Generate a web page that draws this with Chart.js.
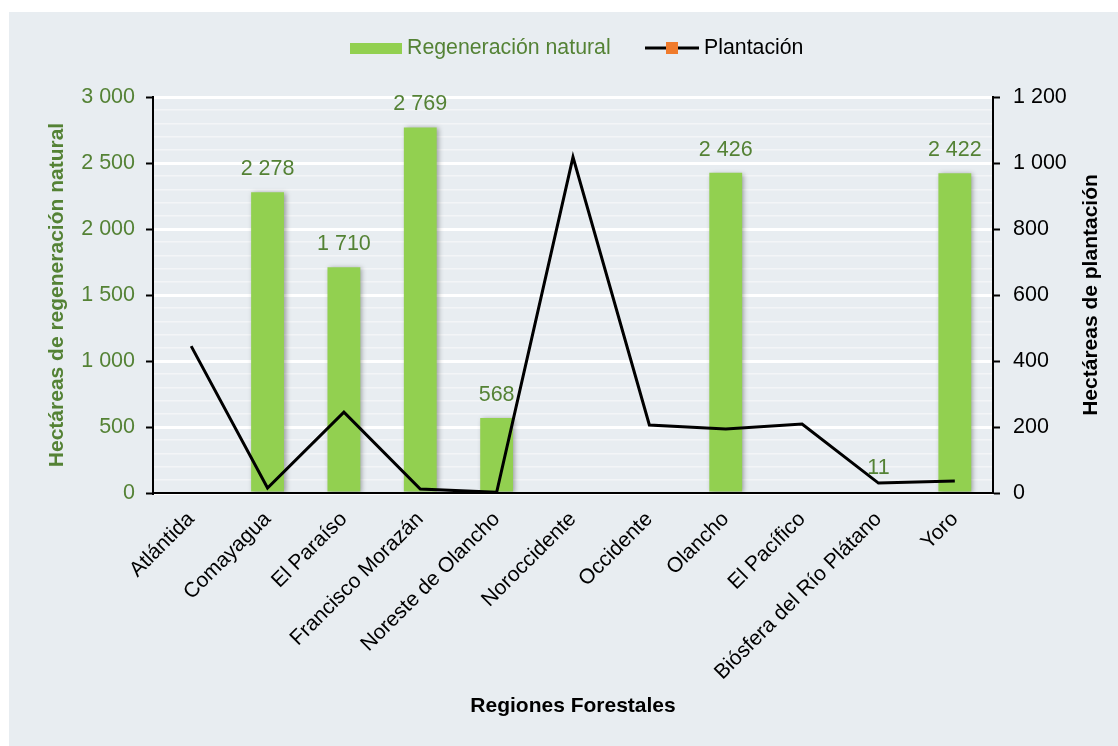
<!DOCTYPE html>
<html>
<head>
<meta charset="utf-8">
<script src="https://cdn.jsdelivr.net/npm/chart.js@4.4.1/dist/chart.umd.min.js"></script>
<style>
  html, body { margin: 0; padding: 0; background: #fff; }
  #wrap { width: 1118px; height: 746px; position: relative; }
</style>
</head>
<body>
<div id="wrap"><canvas id="chart"></canvas></div>
<script>
  // ---- data ----
  var regiones = ['Atlántida', 'Comayagua', 'El Paraíso', 'Francisco Morazán', 'Noreste de Olancho',
    'Noroccidente', 'Occidente', 'Olancho', 'El Pacífico', 'Biósfera del Río Plátano', 'Yoro'];
  var regeneracion = [0, 2278, 1710, 2769, 568, 0, 0, 2426, 0, 11, 2422];
  var plantacion = [445, 15, 245, 12, 2, 1018, 206, 194, 209, 30, 36];

  var GREEN_BAR = '#92d050';
  var GREEN_TXT = '#548235';
  var FONT = "'Liberation Sans', Arial, sans-serif";

  function fmt(v) {
    return String(v).replace(/\B(?=(\d{3})+(?!\d))/g, ' ');
  }

  // background panel, bar shadow, value labels, legend, axis titles
  var decor = {
    id: 'decor',
    beforeDraw: function (chart) {
      var c = chart.ctx;
      c.save();
      c.fillStyle = '#ffffff';
      c.fillRect(0, 0, chart.width, chart.height);
      c.fillStyle = '#e8edf1';
      c.fillRect(9, 12, chart.width - 9, chart.height - 12);
      c.restore();
    },
    beforeDatasetDraw: function (chart, args) {
      if (args.index !== 0) return;
      var c = chart.ctx;
      c.save();
      c.shadowColor = 'rgba(0,0,0,0.35)';
      c.shadowBlur = 5;
      c.shadowOffsetX = 2;
      c.shadowOffsetY = 1;
    },
    afterDatasetDraw: function (chart, args) {
      if (args.index !== 0) return;
      var c = chart.ctx;
      c.restore();
      c.save();
      c.font = '21.5px ' + FONT;
      c.fillStyle = GREEN_TXT;
      c.textAlign = 'center';
      c.textBaseline = 'middle';
      args.meta.data.forEach(function (bar, i) {
        if (!regeneracion[i]) return;
        c.fillText(fmt(regeneracion[i]), bar.x, bar.y - 23);
      });
      c.restore();
    },
    afterDraw: function (chart) {
      var c = chart.ctx;
      var area = chart.chartArea;
      var midY = (area.top + area.bottom) / 2;
      c.save();
      // legend
      c.textBaseline = 'middle';
      c.textAlign = 'left';
      c.font = '21.3px ' + FONT;
      c.fillStyle = GREEN_BAR;
      c.fillRect(350, 43, 52, 11);
      c.fillStyle = GREEN_TXT;
      c.fillText('Regeneración natural', 407, 48);
      c.strokeStyle = '#000';
      c.lineWidth = 3;
      c.beginPath();
      c.moveTo(645, 48);
      c.lineTo(699, 48);
      c.stroke();
      c.fillStyle = '#f07b2c';
      c.fillRect(666, 42, 12, 12);
      c.fillStyle = '#000';
      c.fillText('Plantación', 704, 48);

      // axis titles
      c.font = 'bold 21px ' + FONT;
      c.textAlign = 'center';
      c.fillStyle = GREEN_TXT;
      c.save();
      c.translate(57, midY);
      c.rotate(-Math.PI / 2);
      c.fillText('Hectáreas de regeneración natural', 0, 0);
      c.restore();
      c.fillStyle = '#000';
      c.save();
      c.translate(1091, midY);
      c.rotate(-Math.PI / 2);
      c.fillText('Hectáreas de plantación', 0, 0);
      c.restore();
      c.fillText('Regiones Forestales', (area.left + area.right) / 2, 706);
      c.restore();
    }
  };

  new Chart(document.getElementById('chart').getContext('2d'), {
    type: 'bar',
    data: {
      labels: regiones,
      datasets: [
        {
          label: 'Regeneración natural',
          data: regeneracion,
          backgroundColor: GREEN_BAR,
          borderWidth: 0,
          categoryPercentage: 1,
          barPercentage: 0.43,
          yAxisID: 'y',
          order: 1
        },
        {
          type: 'line',
          label: 'Plantación',
          data: plantacion,
          borderColor: '#000',
          borderWidth: 3,
          pointRadius: 0,
          tension: 0,
          fill: false,
          yAxisID: 'y1',
          order: 0
        }
      ]
    },
    options: {
      responsive: true,
      maintainAspectRatio: false,
      animation: false,
      layout: { padding: { top: 97, left: 0, right: 0, bottom: 0 } },
      plugins: {
        legend: { display: false },
        tooltip: { enabled: false }
      },
      scales: {
        x: {
          offset: true,
          afterFit: function (s) { s.height = 253; },
          grid: { display: false, drawTicks: false },
          border: { color: '#000', width: 2 },
          ticks: {
            color: '#000',
            font: { family: FONT, size: 21 },
            maxRotation: 45,
            minRotation: 45,
            autoSkip: false,
            padding: 14
          }
        },
        y: {
          position: 'left',
          min: 0,
          max: 3000,
          afterFit: function (s) { s.width = 153; },
          border: { color: '#000', width: 2 },
          grid: {
            color: function (ctx) { return ctx.tick && ctx.tick.value % 500 === 0 ? '#ffffff' : '#f3f5f7'; },
            lineWidth: function (ctx) { return ctx.tick && ctx.tick.value % 500 === 0 ? 3 : 1.5; },
            tickColor: function (ctx) { return ctx.tick && ctx.tick.value % 500 === 0 ? '#000' : 'rgba(0,0,0,0)'; },
            tickWidth: 2,
            tickLength: 7
          },
          ticks: {
            stepSize: 100,
            autoSkip: false,
            color: GREEN_TXT,
            font: { family: FONT, size: 21.5 },
            padding: 11,
            callback: function (v) { return v % 500 === 0 ? fmt(v) : ''; }
          }
        },
        y1: {
          position: 'right',
          min: 0,
          max: 1200,
          afterFit: function (s) { s.width = 125; },
          border: { color: '#000', width: 2 },
          grid: {
            drawOnChartArea: false,
            tickColor: '#000',
            tickWidth: 2,
            tickLength: 7
          },
          ticks: {
            stepSize: 200,
            color: '#000',
            font: { family: FONT, size: 21.5 },
            padding: 13,
            callback: function (v) { return fmt(v); }
          }
        }
      }
    },
    plugins: [decor]
  });
</script>
</body>
</html>
